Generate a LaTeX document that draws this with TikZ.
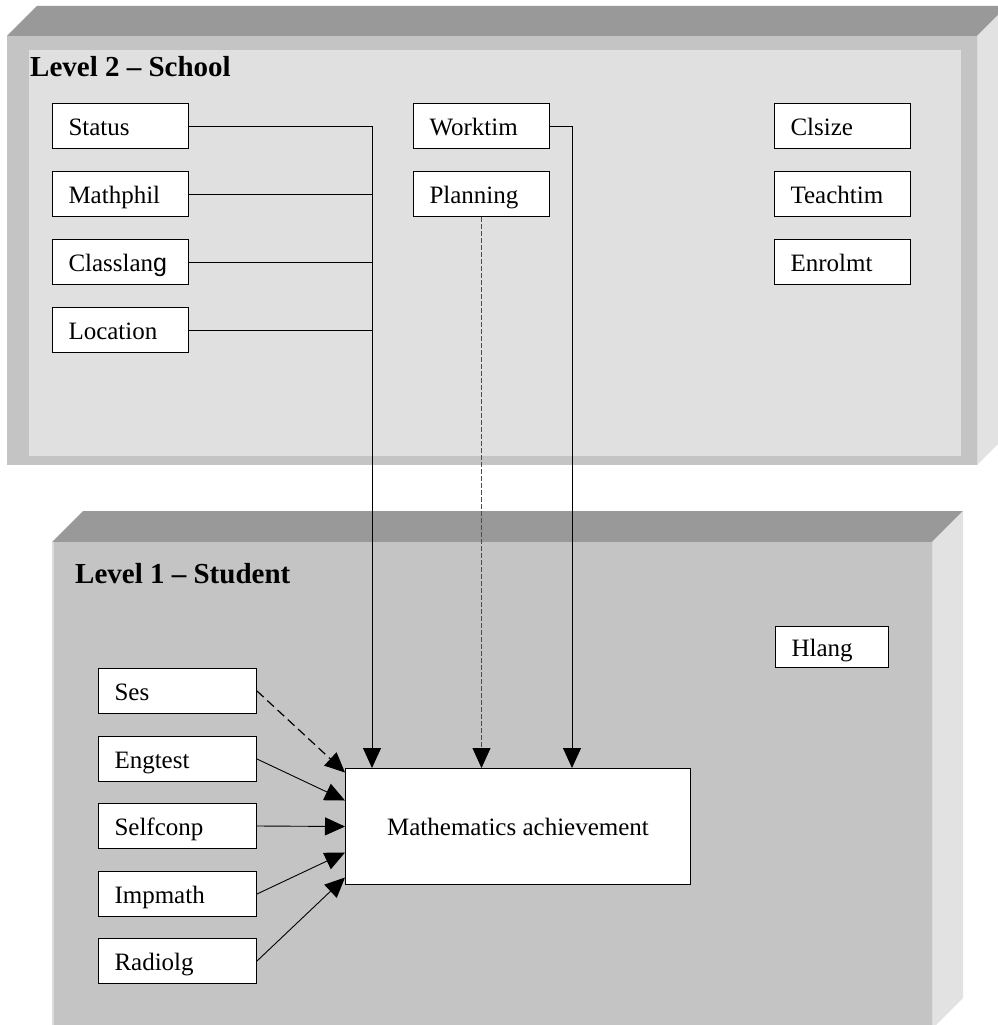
\documentclass[tikz,border=0pt]{standalone}
\usepackage{fontspec}
\setmainfont{Liberation Serif}
\newfontfamily\glyphsans{Liberation Sans}
\usetikzlibrary{arrows.meta,calc}

\definecolor{topface}{HTML}{999999}
\definecolor{frontmid}{HTML}{C4C4C4}
\definecolor{frontlight}{HTML}{E0E0E0}
\definecolor{sideface}{HTML}{E2E2E2}
\definecolor{edgelight}{HTML}{DCDCDC}

\tikzset{
  var/.style={draw=black, fill=white, line width=1pt, anchor=north west,
    minimum height=45pt, inner xsep=16pt, inner ysep=0pt, align=left,
    text height=21pt, text depth=2pt,
    font=\fontsize{25}{30}\selectfont},
  varwide/.style={var, text width=104pt},
  varl1/.style={var, text width=126pt},
  heading/.style={anchor=base west, inner sep=0pt, font=\fontsize{29}{34}\selectfont\bfseries},
  link/.style={line width=0.9pt, draw=black},
  tip/.style={-{Triangle[length=20pt,width=18pt,black]}},
  faint/.style={line width=0.8pt, draw=black!70, dash pattern=on 5pt off 2pt},
  bold dash/.style={line width=1.2pt, draw=black, dash pattern=on 9pt off 5pt},
}

\begin{document}
\begin{tikzpicture}[x=1pt, y=-1pt]
\useasboundingbox (0,0) rectangle (998,1025);
\begin{scope}
\clip (0,0) rectangle (998,1025);

% ---- Level 2 block (school) ----
\fill[topface] (7,36) -- (37,6) -- (1007,6) -- (977,36) -- cycle;
\fill[sideface] (977,36) -- (1007,6) -- (1007,435) -- (977,465) -- cycle;
\fill[frontmid] (7,36) rectangle (977,465);
\fill[frontlight] (29,50) rectangle (961,456);
\draw[edgelight, line width=1.5pt] (977.5,36) -- (977.5,465);

% ---- Level 1 block (student) ----
\fill[topface] (52,542) -- (83,511) -- (963,511) -- (932,542) -- cycle;
\fill[sideface] (932,542) -- (963,511) -- (963,998) -- (932,1029) -- cycle;
\fill[frontmid] (52,542) rectangle (932,1040);
\draw[edgelight, line width=2pt] (53,542) -- (53,1040);
\draw[edgelight, line width=1.5pt] (932.5,542) -- (932.5,1040);
\end{scope}

% ---- headings ----
\node[heading] (h2) at (30,77) {Level 2 -- School};
\node[heading] (h1) at (75,583) {Level 1 -- Student};

% ---- school-level variables ----
\node[varwide] (status)    at (52,103) {Status};
\node[varwide] (mathphil)  at (52,171) {Mathphil};
\node[varwide] (classlang) at (52,239) {Classlan{\glyphsans g}};
\node[varwide] (location)  at (52,307) {Location};
\node[varwide] (worktim)   at (413,103) {Worktim};
\node[varwide] (planning)  at (413,171) {Planning};
\node[varwide] (clsize)    at (774,103) {Clsize};
\node[varwide] (teachtim)  at (774,171) {Teachtim};
\node[varwide] (enrolmt)   at (774,239) {Enrolmt};

% ---- student-level variables ----
\node[var, text width=81pt, minimum height=41pt, inner xsep=16pt] (hlang) at (775,626) {Hlang};
\node[varl1] (ses)      at (98,668) {Ses};
\node[varl1] (engtest)  at (98,736) {Engtest};
\node[varl1] (selfconp) at (98,803) {Selfconp};
\node[varl1] (impmath)  at (98,871) {Impmath};
\node[varl1] (radiolg)  at (98,938) {Radiolg};

% ---- outcome ----
\node[draw=black, fill=white, line width=1pt, minimum width=345pt, minimum height=116pt,
      anchor=north west, font=\fontsize{25}{30}\selectfont] (math) at (345,768) {Mathematics achievement};

% ---- junctions of the school-level paths ----
\coordinate (jtop) at ($(status.east)+(183,0)$);
\coordinate (wcorner) at ($(worktim.east)+(22,0)$);

% school-level effects
\draw[link] (mathphil.east) -- (mathphil.east -| jtop);
\draw[link] (classlang.east) -- (classlang.east -| jtop);
\draw[link] (location.east) -- (location.east -| jtop);
\draw[link, tip] (status.east) -- (jtop) -- (jtop |- math.north);
\draw[link, tip] (worktim.east) -- (wcorner) -- (wcorner |- math.north);
\draw[faint, tip] (planning.south) -- (planning.south |- math.north);

% student-level effects
\draw[bold dash, tip] (ses.east) -- ($(math.west)+(0,-54)$);
\draw[link, tip] (engtest.east) -- ($(math.west)+(0,-26)$);
\draw[link, tip] (selfconp.east) -- (math.west);
\draw[link, tip] (impmath.east) -- ($(math.west)+(0,26)$);
\draw[link, tip] (radiolg.east) -- ($(math.west)+(0,51)$);
\end{tikzpicture}
\end{document}
